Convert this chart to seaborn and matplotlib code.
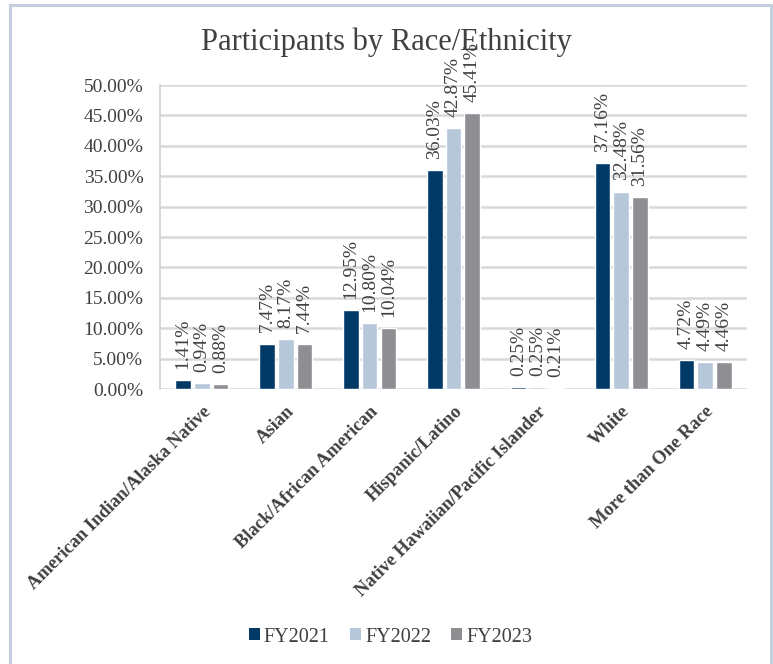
import matplotlib
matplotlib.use("Agg")
import matplotlib.pyplot as plt
from matplotlib.patches import Rectangle, Patch
import pandas as pd
import seaborn as sns

categories = [
    "American Indian/Alaska Native",
    "Asian",
    "Black/African American",
    "Hispanic/Latino",
    "Native Hawaiian/Pacific Islander",
    "White",
    "More than One Race",
]
years = ["FY2021", "FY2022", "FY2023"]
fy2021 = [1.41, 7.47, 12.95, 36.03, 0.25, 37.16, 4.72]
fy2022 = [0.94, 8.17, 10.80, 42.87, 0.25, 32.48, 4.49]
fy2023 = [0.88, 7.44, 10.04, 45.41, 0.21, 31.56, 4.46]
yticks = [0, 5, 10, 15, 20, 25, 30, 35, 40, 45, 50]

colors = ["#023A67", "#B5C7D9", "#8F8F93"]
text_color = "#404040"
serif = ["Liberation Serif", "DejaVu Serif"]

rows = []
for year, vals in zip(years, [fy2021, fy2022, fy2023]):
    for cat, v in zip(categories, vals):
        rows.append({"Race": cat, "Year": year, "Pct": v})
df = pd.DataFrame(rows)

sns.set_theme(style="white")
plt.rcParams["font.family"] = serif

fig = plt.figure(figsize=(7.73, 6.64), dpi=100)
ax = fig.add_axes([160 / 773, 1 - 389 / 664, (747 - 160) / 773, (389 - 85) / 664])

sns.barplot(data=df, x="Race", y="Pct", hue="Year", order=categories,
            hue_order=years, palette=colors, width=0.67, gap=0.17,
            saturation=1, legend=False, ax=ax, zorder=3)

ax.set_ylim(0, 50)
ax.set_yticks(yticks)
ax.set_yticklabels([f"{t:.2f}%" for t in yticks], fontsize=14,
                   color=text_color)
ax.yaxis.grid(True, color="#D9D9D9", linewidth=1.8, zorder=0)
ax.set_axisbelow(True)
ax.tick_params(axis="y", length=0, pad=12)
ax.tick_params(axis="x", length=0, pad=10)
ax.set_xlabel("")
ax.set_ylabel("")
for side in ["top", "right", "bottom"]:
    ax.spines[side].set_visible(False)
ax.spines["left"].set_color("#C9D3DF")
ax.spines["left"].set_linewidth(1.2)

ax.set_xticks(range(len(categories)))
ax.set_xticklabels(categories, rotation=45, ha="right", va="top",
                   rotation_mode="anchor", fontsize=13.3, fontweight="bold",
                   color=text_color)

# value labels above each bar
for container, vals in zip(ax.containers, [fy2021, fy2022, fy2023]):
    for bar, v in zip(container, vals):
        ax.annotate(f"{v:.2f}%",
                    (bar.get_x() + bar.get_width() / 2, bar.get_height()),
                    xytext=(0, 8), textcoords="offset points",
                    rotation=90, ha="center", va="bottom",
                    fontsize=14, color=text_color, annotation_clip=False)

fig.text(0.5, 1 - 42 / 664, "Participants by Race/Ethnicity",
         ha="center", va="center", fontsize=22, color=text_color)

handles = [Patch(facecolor=c, edgecolor="none") for c in colors]
fig.legend(handles, years, loc="center", bbox_to_anchor=(0.505, 1 - 637 / 664),
           ncol=3, frameon=False, fontsize=14.5, handlelength=0.55,
           handleheight=0.55, handletextpad=0.2, columnspacing=1.0,
           labelcolor=text_color)

fig.patches.append(Rectangle((10 / 773, -0.05), (771 - 10) / 773, 1.05 - 5 / 664,
                             transform=fig.transFigure, fill=False,
                             edgecolor="#C3CFDD", linewidth=2.2))

fig.savefig("out.png", dpi=100, facecolor="white")
